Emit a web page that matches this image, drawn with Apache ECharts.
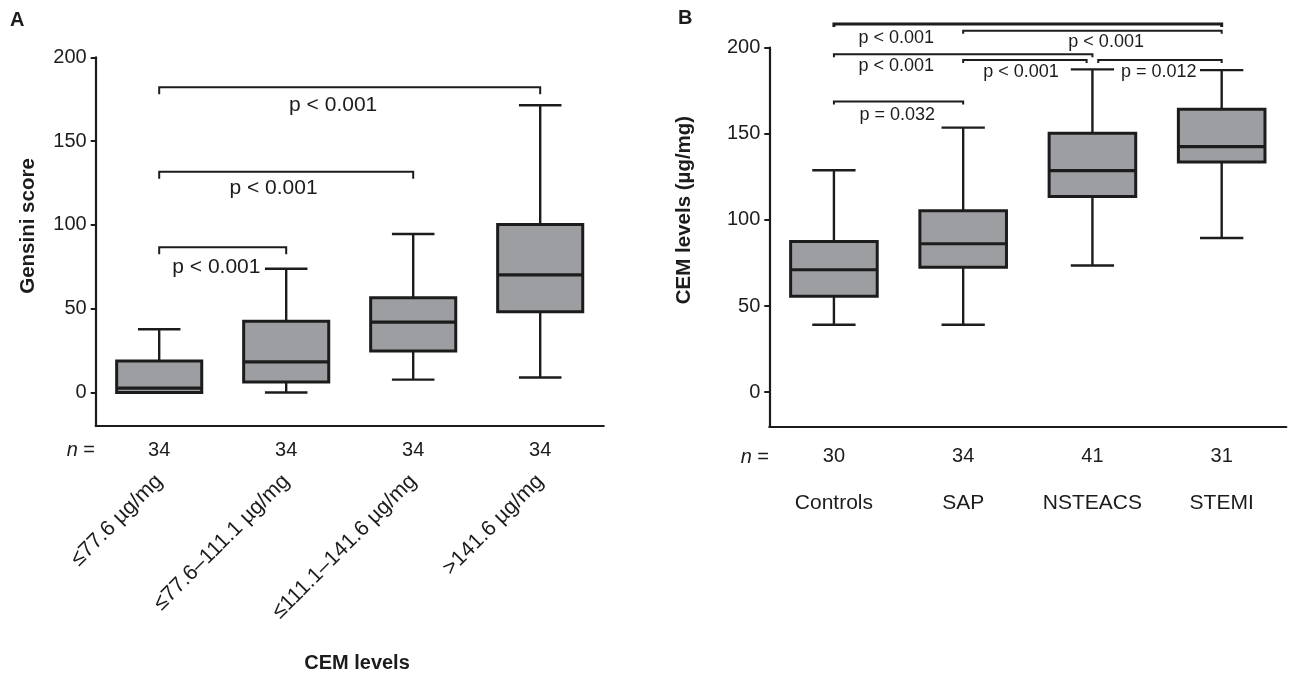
<!DOCTYPE html>
<html>
<head>
<meta charset="utf-8">
<script src="https://cdn.jsdelivr.net/npm/echarts@6.0.0/dist/echarts.min.js"></script>
<style>
html,body{margin:0;padding:0;background:#fff;}
#chart{width:1291px;height:675px;}
</style>
</head>
<body>
<div id="chart"></div>
<script>
// ---------- Panel A data ----------
const categoriesA = ['≤77.6 µg/mg', '≤77.6–111.1 µg/mg', '≤111.1–141.6 µg/mg', '>141.6 µg/mg'];
const nA = ['34', '34', '34', '34'];
// each row: [lower whisker, Q1, median, Q3, upper whisker]
const gensiniBoxes = [
  [0, 0, 2.6, 18.8, 37.7],
  [0, 6.3, 18.3, 42.5, 73.8],
  [7.7, 24.8, 42.0, 56.5, 94.6],
  [8.9, 48.2, 70.2, 100.2, 171.4]
];
// [from category, to category, bracket level]
const bracketsA = [[0, 1, 86.7], [0, 2, 131.7], [0, 3, 182.1]];
// [text, category position, value]
const pLabelsA = [['p < 0.001', 0.45, 74.8], ['p < 0.001', 0.9, 121.6], ['p < 0.001', 1.37, 171.4]];

// ---------- Panel B data ----------
const categoriesB = ['Controls', 'SAP', 'NSTEACS', 'STEMI'];
const nB = ['30', '34', '41', '31'];
const cemBoxes = [
  [39.2, 55.7, 71.1, 87.5, 128.9],
  [39.2, 72.5, 86.2, 105.3, 153.6],
  [73.6, 113.6, 128.7, 150.3, 187.4],
  [89.5, 133.7, 142.6, 164.3, 187.0]
];
const bracketsB = [[0, 3, 213.7], [1, 3, 209.9], [0, 2, 196.2], [1, 1.955, 192.9], [2.045, 3, 192.9], [0, 1, 168.7]];
const pLabelsB = [
  ['p < 0.001', 0.482, 205.6], ['p < 0.001', 2.106, 203.3],
  ['p < 0.001', 0.482, 189.6], ['p < 0.001', 1.448, 185.9],
  ['p = 0.012', 2.513, 185.9], ['p = 0.032', 0.49, 160.9]
];

const yTicks = [0, 50, 100, 150, 200];

// ---------- styles ----------
const FONT = "'Liberation Sans', Arial, Helvetica, sans-serif";
const INK = '#1c1c1c';
const BOX_FILL = '#9c9ea2';

function xAt(api, v, y) {
  const i = Math.floor(v + 1e-9);
  const base = api.coord([i, y]);
  const band = api.size([1, 0])[0];
  return [base[0] + (v - i) * band, base[1]];
}

function boxRenderer(stats) {
  return function (params, api) {
    const i = params.dataIndex;
    const s = stats[i];
    const band = api.size([1, 0])[0];
    const half = band * 0.335;
    const cap = half * 0.5;
    const x = api.coord([i, 0])[0];
    const y = v => api.coord([i, v])[1];
    const lw = 2.4;
    const line = (x1, y1, x2, y2, w) => ({
      type: 'line', shape: { x1, y1, x2, y2 },
      style: { stroke: INK, lineWidth: w || lw }
    });
    return {
      type: 'group',
      children: [
        line(x, y(s[3]), x, y(s[4])),
        line(x, y(s[1]), x, y(s[0])),
        line(x - cap, y(s[4]), x + cap, y(s[4])),
        line(x - cap, y(s[0]), x + cap, y(s[0])),
        {
          type: 'rect',
          shape: { x: x - half, y: y(s[3]), width: half * 2, height: y(s[1]) - y(s[3]) },
          style: { fill: BOX_FILL, stroke: INK, lineWidth: 3 }
        },
        line(x - half, y(s[2]), x + half, y(s[2]), 3.2)
      ]
    };
  };
}

function bracketRenderer(brackets, tip, widths) {
  return function (params, api) {
    const b = brackets[params.dataIndex];
    const p1 = xAt(api, b[0], b[2]);
    const p2 = xAt(api, b[1], b[2]);
    return {
      type: 'polyline',
      shape: { points: [[p1[0], p1[1] + tip], p1, p2, [p2[0], p2[1] + tip]] },
      style: { stroke: INK, lineWidth: widths(params.dataIndex), fill: 'none' }
    };
  };
}

function labelRenderer(labels, size) {
  return function (params, api) {
    const l = labels[params.dataIndex];
    const p = xAt(api, l[1], l[2]);
    return {
      type: 'text', x: p[0], y: p[1],
      style: { text: l[0], fontSize: size, fontFamily: FONT, fill: INK, align: 'center', verticalAlign: 'middle' }
    };
  };
}

function yAxisCfg(gridIndex) {
  return {
    type: 'value', gridIndex, min: -20, max: 200,
    axisLine: { show: true, lineStyle: { color: INK, width: 2.2 } },
    axisTick: { show: true, length: 5, customValues: yTicks, lineStyle: { color: INK, width: 2 } },
    axisLabel: { customValues: yTicks, fontSize: 20, fontFamily: FONT, color: INK, margin: 9 },
    splitLine: { show: false }
  };
}

const option = {
  backgroundColor: '#fff',
  animation: false,
  grid: [
    { left: 95.7, top: 57.3, width: 508, height: 368.7 },
    { left: 769.3, top: 47.7, width: 517, height: 379 }
  ],
  xAxis: [
    {
      type: 'category', gridIndex: 0, data: categoriesA, position: 'bottom',
      axisLine: { onZero: false, lineStyle: { color: INK, width: 2.2 } },
      axisTick: { alignWithLabel: true, length: 5, lineStyle: { color: INK, width: 2 } },
      axisLabel: { rotate: 45, margin: 52, fontSize: 21.5, fontFamily: FONT, color: INK, interval: 0 }
    },
    {
      type: 'category', gridIndex: 0, data: nA, position: 'bottom',
      axisLine: { show: false, onZero: false }, axisTick: { show: false },
      axisLabel: { margin: 14, fontSize: 20, fontFamily: FONT, color: INK, interval: 0 }
    },
    {
      type: 'category', gridIndex: 1, data: categoriesB, position: 'bottom',
      axisLine: { onZero: false, lineStyle: { color: INK, width: 2.2 } },
      axisTick: { alignWithLabel: true, length: 5, lineStyle: { color: INK, width: 2 } },
      axisLabel: { margin: 66, fontSize: 21, fontFamily: FONT, color: INK, interval: 0 }
    },
    {
      type: 'category', gridIndex: 1, data: nB, position: 'bottom',
      axisLine: { show: false, onZero: false }, axisTick: { show: false },
      axisLabel: { margin: 20, fontSize: 20, fontFamily: FONT, color: INK, interval: 0 }
    }
  ],
  yAxis: [yAxisCfg(0), yAxisCfg(1)],
  series: [
    { type: 'custom', xAxisIndex: 0, yAxisIndex: 0, renderItem: boxRenderer(gensiniBoxes),
      data: gensiniBoxes.map((s, i) => [i, s[0], s[4]]), z: 2 },
    { type: 'custom', xAxisIndex: 0, yAxisIndex: 0, renderItem: bracketRenderer(bracketsA, 7, () => 2),
      data: bracketsA.map(b => [b[0], b[2]]), z: 3 },
    { type: 'custom', xAxisIndex: 0, yAxisIndex: 0, renderItem: labelRenderer(pLabelsA, 21),
      data: pLabelsA.map(l => [Math.round(l[1]), l[2]]), z: 4 },
    { type: 'custom', xAxisIndex: 2, yAxisIndex: 1, renderItem: boxRenderer(cemBoxes),
      data: cemBoxes.map((s, i) => [i, s[0], s[4]]), z: 2 },
    { type: 'custom', xAxisIndex: 2, yAxisIndex: 1, renderItem: bracketRenderer(bracketsB, 3, i => (i === 0 ? 3 : 2)),
      data: bracketsB.map(b => [Math.round(b[0]), b[2]]), z: 3 },
    { type: 'custom', xAxisIndex: 2, yAxisIndex: 1, renderItem: labelRenderer(pLabelsB, 18),
      data: pLabelsB.map(l => [Math.round(l[1]), l[2]]), z: 4 }
  ],
  graphic: [
    { type: 'text', left: 10, top: 10, style: { text: 'A', fontSize: 20, fontWeight: 'bold', fontFamily: FONT, fill: INK } },
    { type: 'text', left: 678, top: 8, style: { text: 'B', fontSize: 20, fontWeight: 'bold', fontFamily: FONT, fill: INK } },
    { type: 'text', x: 28, y: 226, rotation: Math.PI / 2,
      style: { text: 'Gensini score', fontSize: 20.5, fontWeight: 'bold', fontFamily: FONT, fill: INK, align: 'center', verticalAlign: 'middle' } },
    { type: 'text', x: 684, y: 210, rotation: Math.PI / 2,
      style: { text: 'CEM levels (µg/mg)', fontSize: 20.5, fontWeight: 'bold', fontFamily: FONT, fill: INK, align: 'center', verticalAlign: 'middle' } },
    { type: 'text', x: 357, y: 663,
      style: { text: 'CEM levels', fontSize: 20, fontWeight: 'bold', fontFamily: FONT, fill: INK, align: 'center', verticalAlign: 'middle' } },
    { type: 'text', x: 95, y: 450,
      style: { text: '{i|n} =', rich: { i: { fontStyle: 'italic', fontSize: 20, fontFamily: FONT, fill: INK } }, fontSize: 20, fontFamily: FONT, fill: INK, align: 'right', verticalAlign: 'middle' } },
    { type: 'text', x: 769, y: 457,
      style: { text: '{i|n} =', rich: { i: { fontStyle: 'italic', fontSize: 20, fontFamily: FONT, fill: INK } }, fontSize: 20, fontFamily: FONT, fill: INK, align: 'right', verticalAlign: 'middle' } }
  ]
};

const chart = echarts.init(document.getElementById('chart'), null, { renderer: 'canvas' });
chart.setOption(option);
</script>
</body>
</html>
